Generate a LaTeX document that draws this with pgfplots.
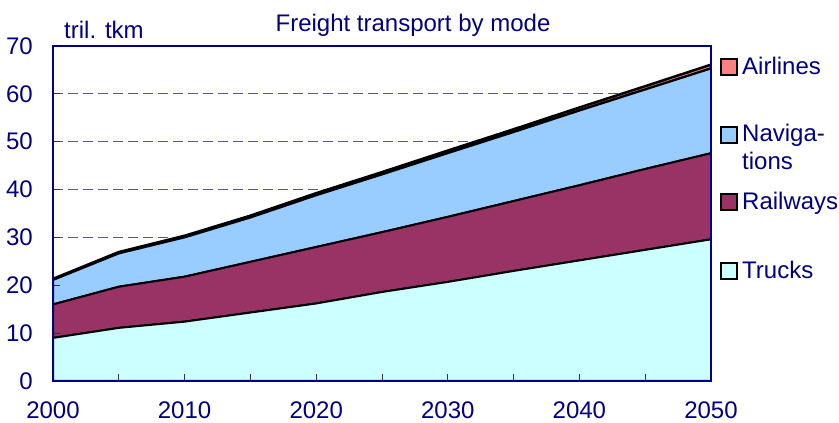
\documentclass[border=0pt]{standalone}
\usepackage{fontspec}
\setmainfont{Liberation Sans}
\usepackage{pgfplots}
\usepackage{pgfplotstable}
\pgfplotsset{compat=1.18}
\definecolor{navy}{RGB}{0,0,128}
\definecolor{trucks}{RGB}{204,255,255}
\definecolor{rail}{RGB}{153,51,102}
\definecolor{nav}{RGB}{153,204,255}
\definecolor{air}{RGB}{255,128,128}
\definecolor{gridc}{RGB}{80,80,190}
\pgfplotsset{
  layers/gridbelow/.define layer set={
    axis background,axis grid,pre main,main,axis ticks,axis lines,axis tick labels,axis descriptions,axis foreground
  }{/pgfplots/layers/standard},
}
\pgfplotstableread{
year trucks rail nav air
2000 9.0  7.0  5.1  0.25
2005 11.1 8.6  6.95 0.3
2010 12.4 9.4  8.2  0.35
2015 14.3 10.6 9.25 0.4
2020 16.2 11.8 10.8 0.45
2025 18.6 12.5 12.05 0.5
2030 20.7 13.6 13.3 0.55
2035 23.0 14.6 14.4 0.6
2040 25.2 15.7 15.6 0.65
2045 27.4 16.9 16.6 0.7
2050 29.6 18.0 17.7 0.8
}\freight
\begin{document}
\fontsize{24bp}{28bp}\selectfont
\begin{tikzpicture}[font=\fontsize{24bp}{28bp}\selectfont]
\begin{axis}[
  at={(0,0)}, anchor=south west,
  scale only axis, width=658bp, height=335bp,
  xmin=2000, xmax=2050, ymin=0, ymax=70,
  xtick={2000,2010,...,2050}, minor xtick={2005,2015,...,2045},
  ytick={0,10,...,70},
  tick align=inside, tick pos=left,
  major tick length=7bp, minor tick length=7bp,
  set layers=gridbelow,
  ymajorgrids,
  grid style={gridc, line width=1bp, dash pattern=on 10bp off 5bp},
  axis line style={navy, line width=1.5bp},
  tick style={black!80, line width=1bp},
  /pgf/number format/assume math mode=true,
  /pgf/number format/1000 sep={},
  tick label style={font=\fontsize{24bp}{28bp}\selectfont, text=navy, inner sep=0pt},
  xticklabel style={anchor=base, yshift=-37bp},
  yticklabel style={anchor=east, xshift=-20bp},
  stack plots=y,
]
\addplot[fill=trucks, draw=black, line width=2bp] table[x=year, y=trucks] {\freight} \closedcycle;
\addplot[fill=rail, draw=black, line width=2bp] table[x=year, y=rail] {\freight} \closedcycle;
\addplot[fill=nav, draw=black, line width=2bp] table[x=year, y=nav] {\freight} \closedcycle;
\addplot[fill=air, draw=black, line width=2.5bp] table[x=year, y=air] {\freight} \closedcycle;
\end{axis}
% title and unit label
\node[anchor=base, text=navy, inner sep=0pt] at (360bp,349bp) {Freight transport by mode};
\node[anchor=base west, text=navy, inner sep=0pt] at (11bp,342bp) {tril. tkm};
% legend
\draw[black, line width=1.5bp, fill=air] (668bp,306bp) rectangle (684bp,322bp);
\node[anchor=base west, text=navy, inner sep=0pt] at (689bp,306bp) {Airlines};
\draw[black, line width=1.5bp, fill=nav] (668bp,238bp) rectangle (684bp,254bp);
\node[anchor=base west, text=navy, inner sep=0pt] at (689bp,239bp) {Naviga-};
\node[anchor=base west, text=navy, inner sep=0pt] at (689bp,211bp) {tions};
\draw[black, line width=1.5bp, fill=rail] (668bp,171bp) rectangle (684bp,187bp);
\node[anchor=base west, text=navy, inner sep=0pt] at (689bp,171bp) {Railways};
\draw[black, line width=1.5bp, fill=trucks] (668bp,102bp) rectangle (684bp,118bp);
\node[anchor=base west, text=navy, inner sep=0pt] at (689bp,102bp) {Trucks};
\path (-53bp,-42bp) rectangle (786bp,381bp);
\end{tikzpicture}
\end{document}
